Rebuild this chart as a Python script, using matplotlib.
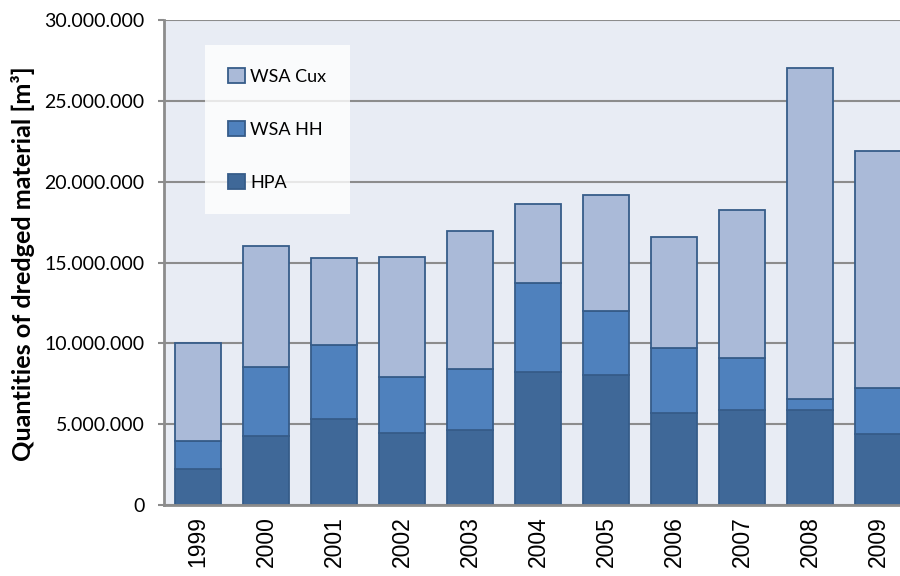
import matplotlib
matplotlib.use("Agg")
import matplotlib.pyplot as plt
import matplotlib.patches as mpatches
from matplotlib.ticker import FuncFormatter, MultipleLocator

# data (m³)
years = ["1999", "2000", "2001", "2002", "2003", "2004", "2005", "2006", "2007", "2008", "2009"]
hpa = [2.2e6, 4.24e6, 5.33e6, 4.46e6, 4.61e6, 8.23e6, 8.06e6, 5.72e6, 5.88e6, 5.9e6, 4.38e6]
wsa_hh = [1.77e6, 4.3e6, 4.59e6, 3.46e6, 3.82e6, 5.53e6, 3.92e6, 3.99e6, 3.23e6, 0.66e6, 2.88e6]
wsa_cux = [6.03e6, 7.48e6, 5.33e6, 7.41e6, 8.5e6, 4.86e6, 7.19e6, 6.87e6, 9.16e6, 20.47e6, 14.63e6]

series_names = ["HPA", "WSA HH", "WSA Cux"]
colors = ["#3F6898", "#4F81BD", "#AABAD8"]
edge = "#365C89"


def thousands_dots(v, pos):
    return f"{int(round(v)):,}".replace(",", ".")


fig = plt.figure(figsize=(9, 5.76), dpi=100)
ax = fig.add_axes([164 / 900, 71 / 576, 748 / 900, 485 / 576])
ax.set_facecolor("#E8ECF4")

x = range(len(years))
bottom = [0] * len(years)
for vals, col in zip([hpa, wsa_hh, wsa_cux], colors):
    ax.bar(x, vals, width=0.67, bottom=bottom, color=col, edgecolor=edge,
           linewidth=1.3, zorder=3)
    bottom = [b + v for b, v in zip(bottom, vals)]

ax.set_xlim(-0.5, len(years) - 0.5)
ax.set_ylim(0, 30e6)
ax.yaxis.set_major_locator(MultipleLocator(5e6))
ax.yaxis.set_major_formatter(FuncFormatter(thousands_dots))
ax.grid(axis="y", color="#8C8C8C", linewidth=1.5, zorder=1)
ax.set_axisbelow(True)

ax.set_xticks(list(x))
ax.set_xticklabels(years, rotation=90, fontsize=16.5, family="Liberation Sans")
ax.tick_params(axis="x", length=0, pad=8)
ax.tick_params(axis="y", length=4, color="#8C8C8C", width=1.5, labelsize=14, pad=10)
for lab in ax.get_yticklabels():
    lab.set_family("Lato")

for side in ["top", "right"]:
    ax.spines[side].set_visible(False)
for side in ["left", "bottom"]:
    ax.spines[side].set_color("#8C8C8C")
    ax.spines[side].set_linewidth(2)
    ax.spines[side].set_zorder(4)

ax.set_ylabel("Quantities of dredged material [m³]", fontsize=18.2, fontweight="bold",
              family="Lato")
ax.yaxis.set_label_coords(-129 / 748, 0.498)

# legend: white box, no frame, order reversed
handles = [mpatches.Patch(facecolor=c, edgecolor=edge, linewidth=1.3) for c in colors]
leg = fig.legend(handles[::-1], series_names[::-1], loc="upper left",
                 bbox_to_anchor=(205 / 900, 1 - 45 / 576), frameon=True, fancybox=False,
                 prop={"family": "Lato", "size": 13}, labelspacing=2.0,
                 handlelength=0.9, handleheight=0.9, handletextpad=0.3,
                 borderpad=1.3, borderaxespad=0)
leg.get_frame().set_facecolor("white")
leg.get_frame().set_edgecolor("none")

fig.savefig("out.png", dpi=100)
